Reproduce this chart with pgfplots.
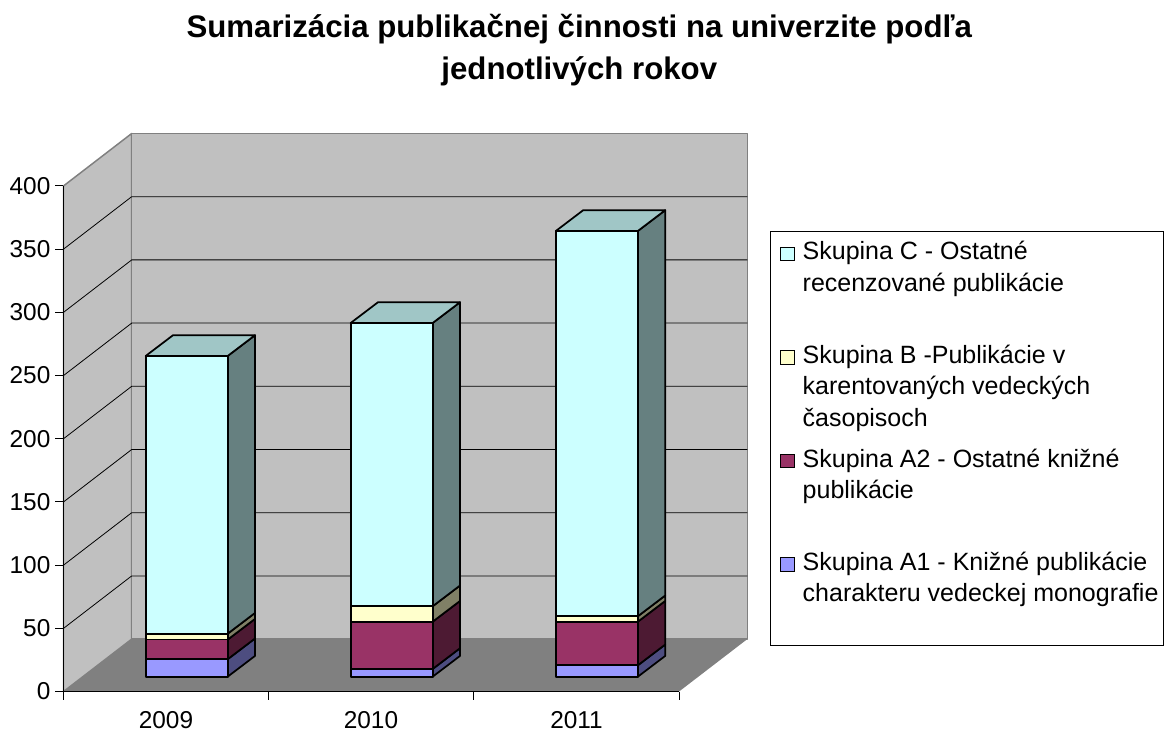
\documentclass[border=0pt]{standalone}
\usepackage{pgfplots}
\pgfplotsset{compat=1.18}
\usepackage{fontspec}
\setmainfont{Liberation Sans}

\definecolor{wall}{HTML}{C0C0C0}
\definecolor{floorc}{HTML}{808080}
\definecolor{cc}{HTML}{CCFFFF}
\definecolor{ccs}{HTML}{668080}
\definecolor{cct}{HTML}{A0C6C6}
\definecolor{bb}{HTML}{FFFFCC}
\definecolor{bbs}{HTML}{808066}
\definecolor{aii}{HTML}{993366}
\definecolor{aiis}{HTML}{4D1A33}
\definecolor{ai}{HTML}{9999FF}
\definecolor{ais}{HTML}{4D4D80}

% x is in picture pixels, y in publication counts
\newcommand{\barw}{82}
\newcommand{\seg}[5]{%
  \pgfmathsetmacro{\xa}{#1}
  \pgfmathsetmacro{\xb}{#1+\barw}
  \pgfmathsetmacro{\xc}{#1+\barw+27.3}
  \pgfmathsetmacro{\ya}{#2+11.8}
  \pgfmathsetmacro{\yb}{#3+11.8}
  \pgfmathsetmacro{\yc}{#2+11.8+16.4}
  \pgfmathsetmacro{\yd}{#3+11.8+16.4}
  \addplot[barline, fill=#5, forget plot] coordinates {(\xb,\ya) (\xc,\yc) (\xc,\yd) (\xb,\yb)} --cycle;
  \addplot[barline, fill=#4, forget plot] coordinates {(\xa,\ya) (\xb,\ya) (\xb,\yb) (\xa,\yb)} --cycle;
}
\newcommand{\stackbar}[5]{%
  \pgfmathsetmacro{\sa}{#2}
  \pgfmathsetmacro{\sb}{#2+#3}
  \pgfmathsetmacro{\sc}{#2+#3+#4}
  \pgfmathsetmacro{\sd}{#2+#3+#4+#5}
  \let\ssa\sa \let\ssb\sb \let\ssc\sc \let\ssd\sd
  \seg{#1}{0}{\ssa}{ai}{ais}
  \seg{#1}{\ssa}{\ssb}{aii}{aiis}
  \seg{#1}{\ssb}{\ssc}{bb}{bbs}
  \seg{#1}{\ssc}{\ssd}{cc}{ccs}
  \pgfmathsetmacro{\xa}{#1}
  \pgfmathsetmacro{\xb}{#1+\barw}
  \pgfmathsetmacro{\xc}{#1+\barw+27.3}
  \pgfmathsetmacro{\xd}{#1+27.3}
  \pgfmathsetmacro{\yb}{\ssd+11.8}
  \pgfmathsetmacro{\yd}{\ssd+11.8+16.4}
  \addplot[barline, fill=cct, forget plot] coordinates {(\xa,\yb) (\xb,\yb) (\xc,\yd) (\xd,\yd)} --cycle;
}
\newcommand{\gridl}[2]{%
  \addplot[black, line width=0.6pt, forget plot] coordinates {(63.5,#1) (131.7,#2) (747.3,#2)};
}
\newcommand{\legtext}[1]{\parbox[t]{270.2pt}{\baselineskip=23.5pt #1}}

\begin{document}
\begin{tikzpicture}
\begin{axis}[
  scale only axis,
  width=461.6pt, height=379.2pt,
  xmin=63.5, xmax=679,
  ymin=0, ymax=400,
  clip=false,
  axis on top,
  axis lines=left,
  axis line style={-, black, line width=0.8pt},
  tick style={black, line width=0.7pt},
  tick align=outside,
  major tick length=6.3pt,
  ytick distance=50,
  xtick={63.5,268.6,473.7,679},
  xticklabels={,,,},
  extra x ticks={166,371,576.5},
  extra x tick labels={2009,2010,2011},
  extra x tick style={major tick length=0pt, xticklabel style={yshift=-11.75pt}},
  tick label style={font=\fontsize{18.3}{22}\selectfont},
  /pgf/number format/assume math mode=true,
  scaled x ticks=false,
  barline/.style={black, line width=1.3pt, line join=round},
  wallline/.style={floorc, line width=1.1pt, line join=round},
  title={Sumarizácia publikačnej činnosti na univerzite podľa\\jednotlivých rokov},
  title style={align=center, anchor=north, at={(0.838,1.333)},
    font=\bfseries\fontsize{23.4}{31.5}\selectfont},
  legend style={at={(axis cs:770.3,364.4)}, anchor=north west,
    draw=black, line width=0.6pt, inner sep=0pt, outer sep=0pt,
    font=\fontsize{18.75}{23.5}\selectfont,
    nodes={inner sep=0pt, outer sep=0pt, text height=21.75pt, text depth=55.9pt},
    row sep=0pt, column sep=0pt},
  legend cell align=left,
  legend image code/.code={%
    \path[draw=none, fill=none] (0pt,0pt) -- (24.3pt,0pt);
    \draw[draw=black, line width=0.8pt] (7.95pt,16.4pt) rectangle (18.45pt,26.6pt);
  },
]
  \addlegendimage{fill=cc}
  \addlegendentry{\legtext{Skupina C - Ostatné\\recenzované publikácie}}
  \addlegendimage{fill=bb}
  \addlegendentry{\legtext{Skupina B -Publikácie v\\karentovaných vedeckých\\časopisoch}}
  \addlegendimage{fill=aii}
  \addlegendentry{\legtext{Skupina A2 - Ostatné knižné\\publikácie}}
  \addlegendimage{fill=ai}
  \addlegendentry{\legtext{Skupina A1 - Knižné publikácie\\charakteru vedeckej monografie}}

  % page size, in axis units
  \path (axis cs:0,-31.2) rectangle (axis cs:1164,547.1);

  % walls and floor
  \addplot[wallline, fill=wall, forget plot] coordinates {(63.5,0) (131.7,41.5) (131.7,441.5) (63.5,400)} --cycle;
  \addplot[wallline, fill=wall, forget plot] coordinates {(131.7,41.5) (747.3,41.5) (747.3,441.5) (131.7,441.5)} --cycle;
  \addplot[draw=none, fill=floorc, forget plot] coordinates {(63.5,0) (679,0) (747.3,41.5) (131.7,41.5)} --cycle;

  \gridl{50}{91.5}
  \gridl{100}{141.5}
  \gridl{150}{191.5}
  \gridl{200}{241.5}
  \gridl{250}{291.5}
  \gridl{300}{341.5}
  \gridl{350}{391.5}

  % x, A1, A2, B, C
  \stackbar{145.7}{13.8}{15.5}{4.7}{219.7}
  \stackbar{350.7}{6.1}{37.4}{12.2}{224.1}
  \stackbar{555.9}{9}{34.5}{4.3}{304.8}
\end{axis}
\end{tikzpicture}
\end{document}
